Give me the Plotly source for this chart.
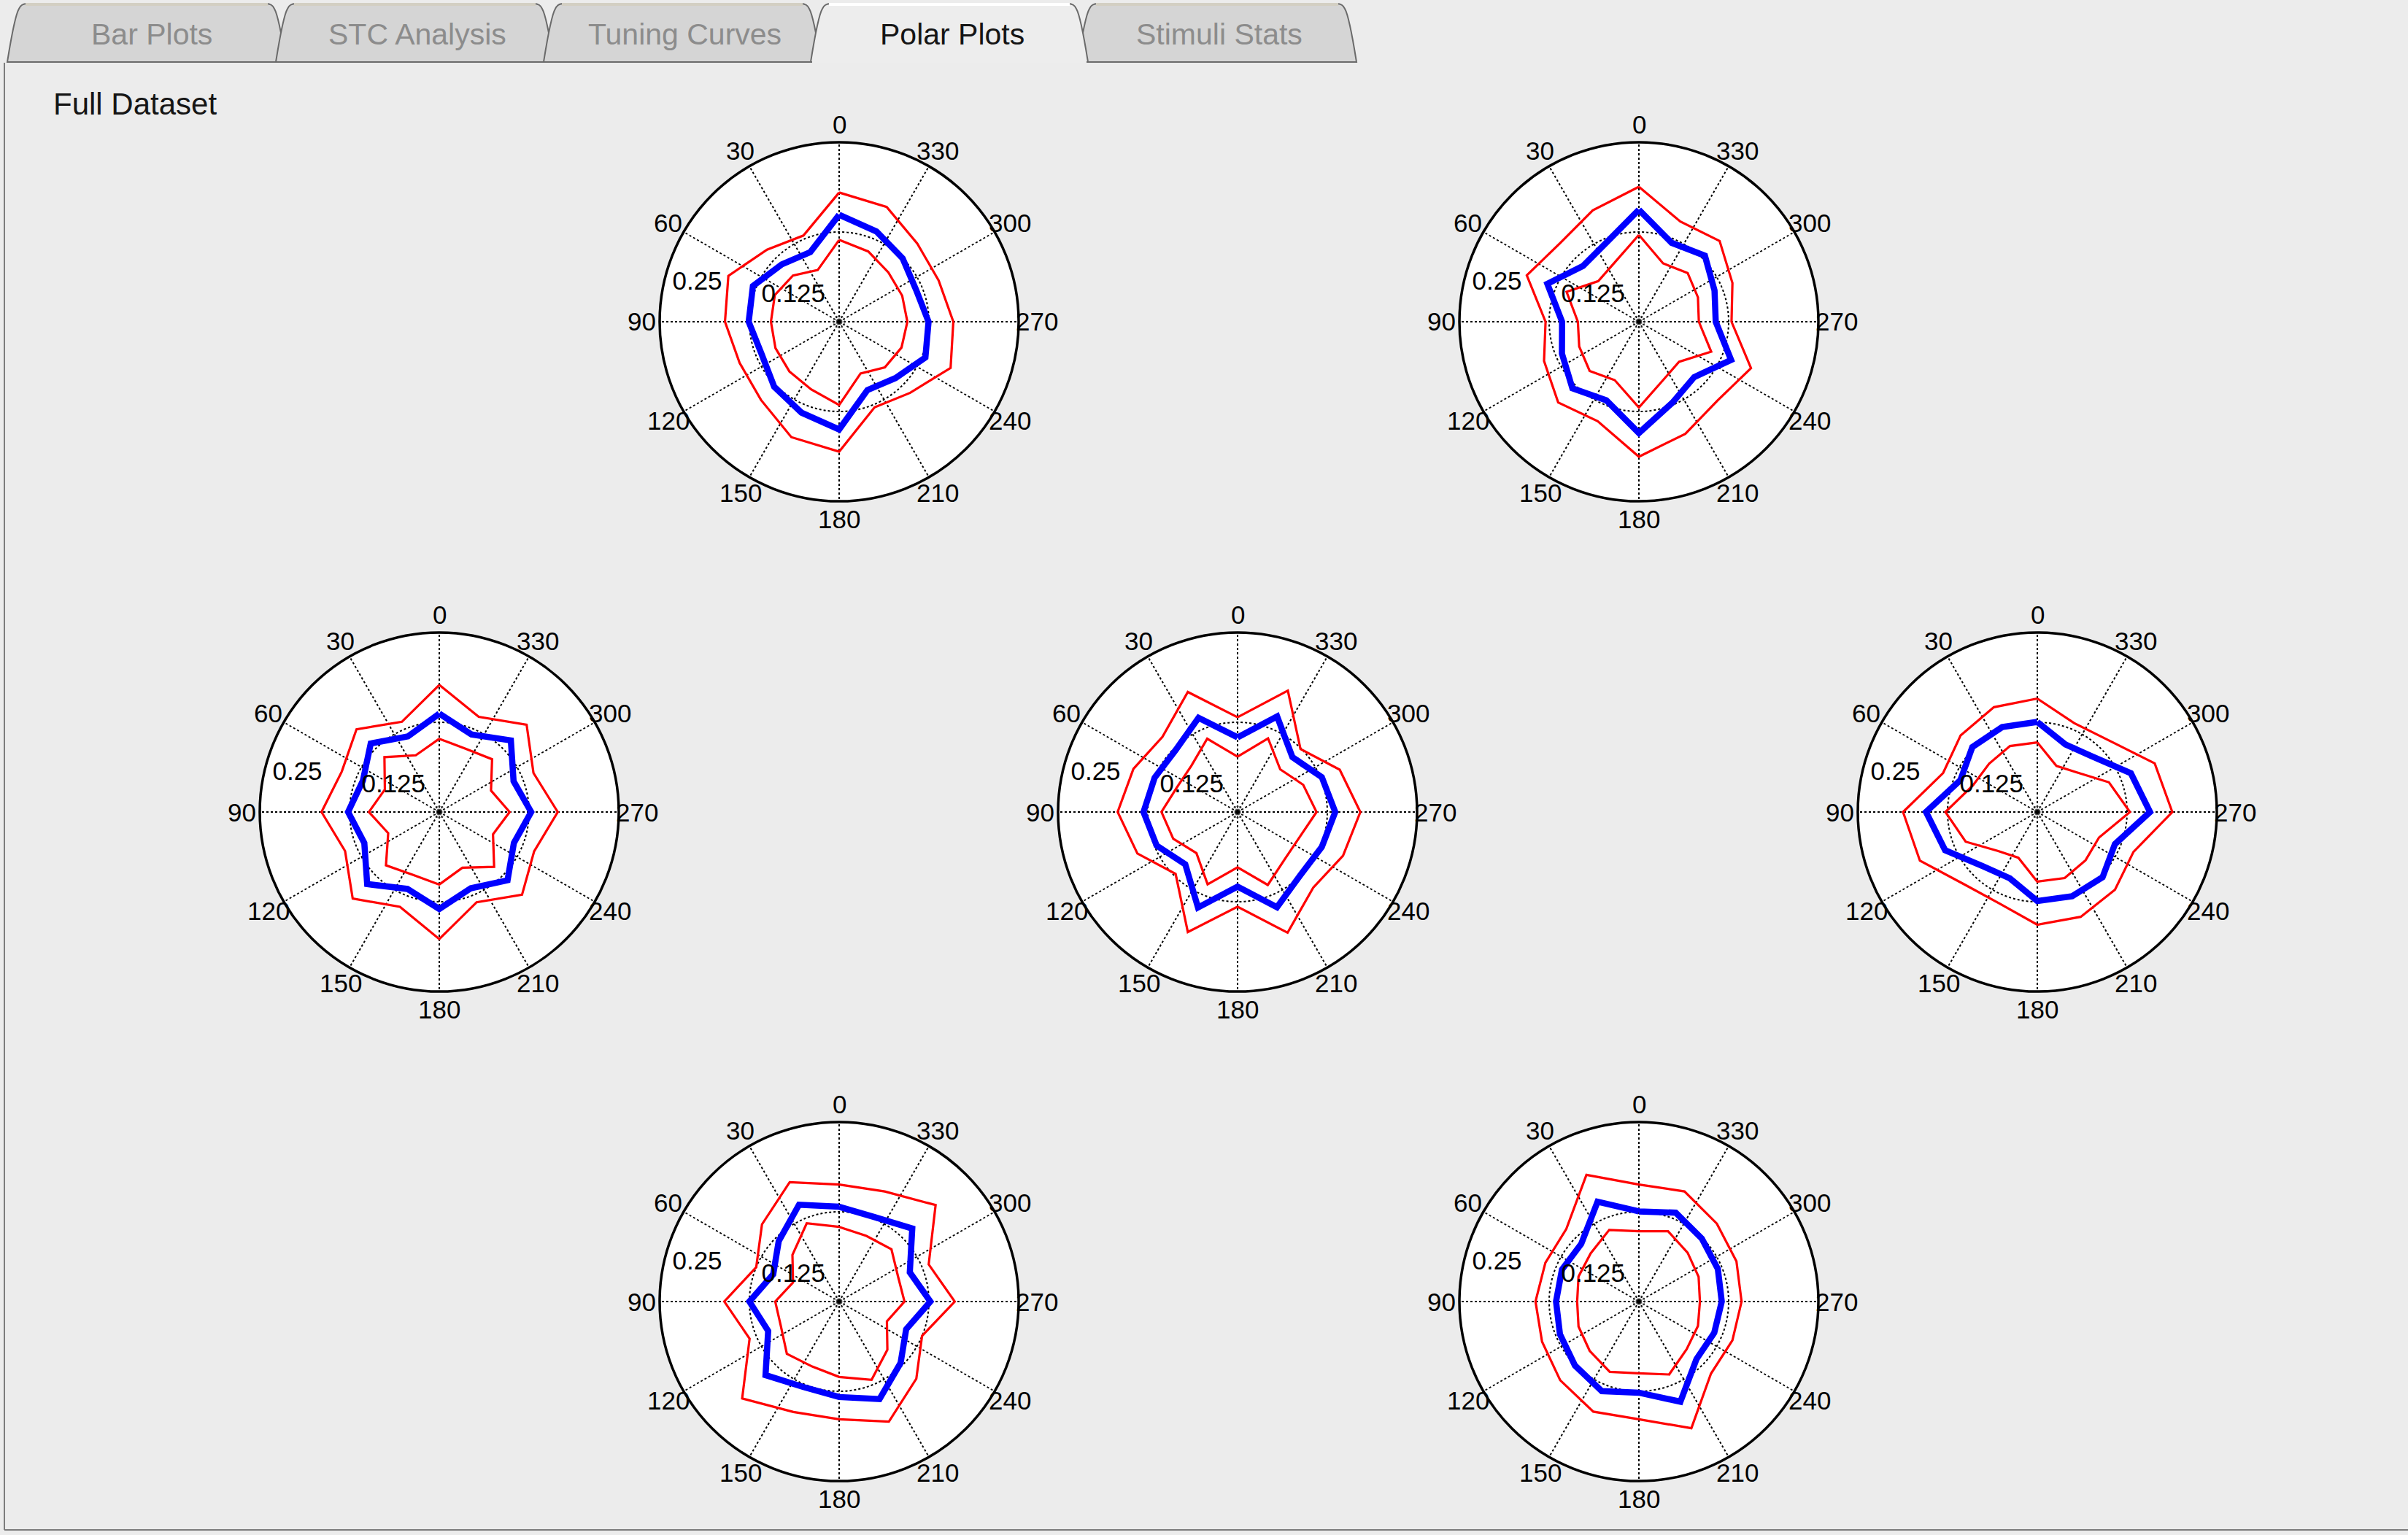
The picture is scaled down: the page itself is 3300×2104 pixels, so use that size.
import math
import plotly.graph_objects as go

# ---------------- data ----------------
directions = [0, 22.5, 45, 67.5, 90, 112.5, 135, 157.5,
              180, 202.5, 225, 247.5, 270, 292.5, 315, 337.5]
angle_ticks = [0, 30, 60, 90, 120, 150, 180, 210, 240, 270, 300, 330]
angle_tick_labels = ["0", "30", "60", "90", "120", "150", "180",
                     "210", "240", "270", "300", "330"]
r_ticks = [0.125, 0.25]
r_tick_labels = ["0.125", "0.25"]
r_max = 0.25

a_upper = [0.180, 0.130, 0.142, 0.167, 0.159, 0.150, 0.154, 0.174,
           0.181, 0.129, 0.140, 0.168, 0.159, 0.150, 0.154, 0.173]
a_mean = [0.149, 0.105, 0.113, 0.130, 0.126, 0.117, 0.128, 0.137,
          0.150, 0.103, 0.111, 0.130, 0.1245, 0.116, 0.125, 0.136]
a_lower = [0.114, 0.078, 0.091, 0.097, 0.095, 0.096, 0.098, 0.102,
           0.116, 0.078, 0.090, 0.094, 0.095, 0.095, 0.097, 0.106]

b_upper = [0.188, 0.168, 0.155, 0.169, 0.130, 0.143, 0.159, 0.150,
           0.188, 0.169, 0.155, 0.169, 0.129, 0.141, 0.159, 0.151]
b_mean = [0.156, 0.119, 0.110, 0.138, 0.107, 0.116, 0.131, 0.1185,
          0.155, 0.122, 0.109, 0.139, 0.107, 0.114, 0.130, 0.119]
b_lower = [0.121, 0.089, 0.080, 0.109, 0.085, 0.090, 0.097, 0.088,
           0.1195, 0.088, 0.079, 0.109, 0.0835, 0.089, 0.096, 0.088]

c_upper = [0.177, 0.136, 0.163, 0.147, 0.164, 0.142, 0.1705, 0.143,
           0.177, 0.136, 0.163, 0.143, 0.165, 0.142, 0.172, 0.1435]
c_mean = [0.137, 0.114, 0.135, 0.115, 0.127, 0.113, 0.142, 0.116,
          0.135, 0.115, 0.1345, 0.1125, 0.128, 0.112, 0.141, 0.117]
c_lower = [0.102, 0.0855, 0.108, 0.082, 0.098, 0.077, 0.105, 0.095,
           0.101, 0.084, 0.108, 0.081, 0.098, 0.078, 0.104, 0.0955]

d_upper = [0.132, 0.181, 0.148, 0.157, 0.167, 0.151, 0.122, 0.181,
           0.132, 0.182, 0.149, 0.159, 0.171, 0.154, 0.124, 0.183]
d_mean = [0.104, 0.142, 0.122, 0.125, 0.131, 0.122, 0.103, 0.144,
          0.104, 0.1435, 0.124, 0.127, 0.136, 0.127, 0.108, 0.144]
d_lower = [0.077, 0.1105, 0.091, 0.091, 0.106, 0.097, 0.081, 0.109,
           0.077, 0.110, 0.093, 0.093, 0.110, 0.099, 0.084, 0.111]

e_upper = [0.158, 0.158, 0.151, 0.142, 0.187, 0.177, 0.143, 0.138,
           0.157, 0.158, 0.153, 0.145, 0.188, 0.177, 0.141, 0.134]
e_mean = [0.1255, 0.128, 0.128, 0.116, 0.155, 0.139, 0.107, 0.100,
          0.124, 0.127, 0.1285, 0.117, 0.157, 0.141, 0.109, 0.102]
e_lower = [0.097, 0.0995, 0.095, 0.097, 0.128, 0.108, 0.077, 0.069,
           0.097, 0.0996, 0.095, 0.093, 0.129, 0.108, 0.078, 0.0695]

f_upper = [0.163, 0.180, 0.152, 0.125, 0.160, 0.135, 0.191, 0.1665,
           0.164, 0.181, 0.152, 0.125, 0.161, 0.135, 0.190, 0.166]
f_mean = [0.132, 0.146, 0.119, 0.0994, 0.125, 0.107, 0.145, 0.129,
          0.133, 0.147, 0.121, 0.101, 0.127, 0.1065, 0.144, 0.1275]
f_lower = [0.104, 0.118, 0.092, 0.0695, 0.089, 0.088, 0.103, 0.098,
           0.105, 0.118, 0.095, 0.072, 0.091, 0.089, 0.103, 0.099]

g_upper = [0.163, 0.191, 0.143, 0.141, 0.144, 0.146, 0.155, 0.166,
           0.164, 0.191, 0.142, 0.141, 0.143, 0.147, 0.1535, 0.166]
g_mean = [0.1256, 0.1505, 0.1136, 0.116, 0.1154, 0.119, 0.126, 0.135,
          0.127, 0.151, 0.1134, 0.1136, 0.1154, 0.119, 0.124, 0.134]
g_lower = [0.098, 0.108, 0.095, 0.091, 0.086, 0.091, 0.097, 0.106,
           0.100, 0.110, 0.094, 0.089, 0.085, 0.090, 0.096, 0.106]

tab_names = ["Bar Plots", "STC Analysis", "Tuning Curves", "Polar Plots", "Stimuli Stats"]
selected_tab = "Polar Plots"
panel_title = "Full Dataset"

plots = [
    (a_upper, a_mean, a_lower),
    (b_upper, b_mean, b_lower),
    (c_upper, c_mean, c_lower),
    (d_upper, d_mean, d_lower),
    (e_upper, e_mean, e_lower),
    (f_upper, f_mean, f_lower),
    (g_upper, g_mean, g_lower),
]

# ---------------- layout geometry (pixels) ----------------
W, H = 3300, 2104
R = 246
centers = [(1150, 441), (2246, 441),
           (602, 1113), (1696, 1113), (2792, 1113),
           (1150, 1784), (2246, 1784)]
FONT = "Liberation Sans, Arial, Helvetica, sans-serif"
BG = "#ECECEC"
LABEL_SIZE = 35


def px(x):
    return x / W


def py(y):
    return 1 - y / H


def closed(v):
    return list(v) + [v[0]]


def polar_to_px(cx, cy, r, theta_deg):
    """screen position of (r, theta) with 0 at top, counter-clockwise."""
    rad = math.radians(theta_deg)
    d = r / r_max * R
    return cx - d * math.sin(rad), cy - d * math.cos(rad)


fig = go.Figure()
layout_polars = {}
annotations = []

for i, ((up, mean, low), (cx, cy)) in enumerate(zip(plots, centers)):
    name = "polar" if i == 0 else f"polar{i + 1}"
    th = closed(directions)
    for vals, color, width in [(up, "#FF0000", 3.2), (low, "#FF0000", 3.2), (mean, "#0000FF", 8.5)]:
        fig.add_trace(go.Scatterpolar(
            r=closed(vals), theta=th, mode="lines",
            line=dict(color=color, width=width),
            subplot=name, showlegend=False, hoverinfo="skip"))
    # centre marks
    fig.add_trace(go.Scatterpolar(
        r=[0, 0], theta=[0, 0], mode="markers",
        marker=dict(symbol="circle-open", size=[16, 7], color=["#555555", "black"],
                    line=dict(width=[1, 2])),
        subplot=name, showlegend=False, hoverinfo="skip"))

    # angular labels at 1.1 * rmax (MATLAB polar convention)
    for t, lab in zip(angle_ticks, angle_tick_labels):
        x, y = polar_to_px(cx, cy, 1.1 * r_max, t)
        annotations.append(dict(x=px(x), y=py(y), xref="paper", yref="paper", text=lab,
                                showarrow=False, xanchor="center", yanchor="middle",
                                font=dict(family=FONT, size=LABEL_SIZE, color="black")))
    # radial labels at 82 degrees, left / bottom aligned
    rinc = r_ticks[0]
    for t, lab in zip(r_ticks, r_tick_labels):
        x, y = polar_to_px(cx, cy, t + rinc / 20, 82)
        annotations.append(dict(x=px(x), y=py(y), xref="paper", yref="paper",
                                text="\u00a0\u00a0" + lab,
                                showarrow=False, xanchor="left", yanchor="bottom",
                                font=dict(family=FONT, size=LABEL_SIZE, color="black")))

    layout_polars[name] = dict(
        domain=dict(x=[px(cx - R), px(cx + R)], y=[py(cy + R), py(cy - R)]),
        bgcolor="white",
        radialaxis=dict(range=[0, r_max], tickvals=r_ticks[:-1], showticklabels=False,
                        ticks="", showline=False, showgrid=True, gridcolor="black",
                        gridwidth=1.5, griddash="dot"),
        angularaxis=dict(rotation=90, direction="counterclockwise", tickmode="array",
                         tickvals=angle_ticks, showticklabels=False, ticks="",
                         showline=True, linecolor="black", linewidth=3.5,
                         showgrid=True, gridcolor="black", gridwidth=1.5, griddash="dot"),
    )

# ---------------- tabs ----------------
seps = [17, 385, 752, 1118, 1484, 1852]
tab_text_x = [208, 572, 938, 1305, 1671]
top, bot = 5, 85
shapes = []


def tab_path(a, b):
    return (f"M {px(a - 7)},{py(bot)} "
            f"C {px(a - 3)},{py(60)} {px(a + 3)},{py(22)} {px(a + 9)},{py(12)} "
            f"Q {px(a + 12)},{py(top)} {px(a + 20)},{py(top)} "
            f"L {px(b - 20)},{py(top)} "
            f"Q {px(b - 12)},{py(top)} {px(b - 9)},{py(12)} "
            f"C {px(b - 3)},{py(22)} {px(b + 3)},{py(60)} {px(b + 7)},{py(bot)} Z")


order = [i for i, n in enumerate(tab_names) if n != selected_tab] + \
        [i for i, n in enumerate(tab_names) if n == selected_tab]
for i in order:
    a, b = seps[i], seps[i + 1]
    sel = tab_names[i] == selected_tab
    shapes.append(dict(type="path", xref="paper", yref="paper", path=tab_path(a, b),
                       fillcolor="#EDEDED" if sel else "#D5D5D5",
                       line=dict(color="#6A6A6A", width=2), layer="below"))
    shapes.append(dict(type="line", xref="paper", yref="paper",
                       x0=px(a + 18), x1=px(b - 18), y0=py(top + 1), y1=py(top + 1),
                       line=dict(color="#FFFFFF" if sel else "#D3CFC3", width=4), layer="below"))
    if sel:
        shapes.append(dict(type="line", xref="paper", yref="paper",
                           x0=px(a - 5), x1=px(b + 5), y0=py(bot), y1=py(bot),
                           line=dict(color="#EDEDED", width=4), layer="below"))

# panel border
shapes.append(dict(type="line", xref="paper", yref="paper", x0=px(6), x1=px(6),
                   y0=py(86), y1=py(2097), line=dict(color="#7C7C7C", width=2)))
shapes.append(dict(type="line", xref="paper", yref="paper", x0=px(6), x1=px(W),
                   y0=py(2097), y1=py(2097), line=dict(color="#7C7C7C", width=2)))

for name, x in zip(tab_names, tab_text_x):
    sel = name == selected_tab
    annotations.append(dict(x=px(x), y=py(47), xref="paper", yref="paper", text=name,
                            showarrow=False, xanchor="center", yanchor="middle",
                            font=dict(family=FONT, size=41,
                                      color="#151515" if sel else "#8C8C8C")))
annotations.append(dict(x=px(71), y=py(143), xref="paper", yref="paper", text=panel_title,
                        showarrow=False, xanchor="left", yanchor="middle",
                        font=dict(family=FONT, size=42, color="#151515")))

fig.update_layout(width=W, height=H, margin=dict(l=0, r=0, t=0, b=0),
                  paper_bgcolor=BG, plot_bgcolor=BG, showlegend=False,
                  shapes=shapes, annotations=annotations, **layout_polars)

fig.write_html("out.html",
               config={"displayModeBar": False},
               post_script="document.body.style.margin='0px';"
                           "document.body.style.background='#ECECEC';")
